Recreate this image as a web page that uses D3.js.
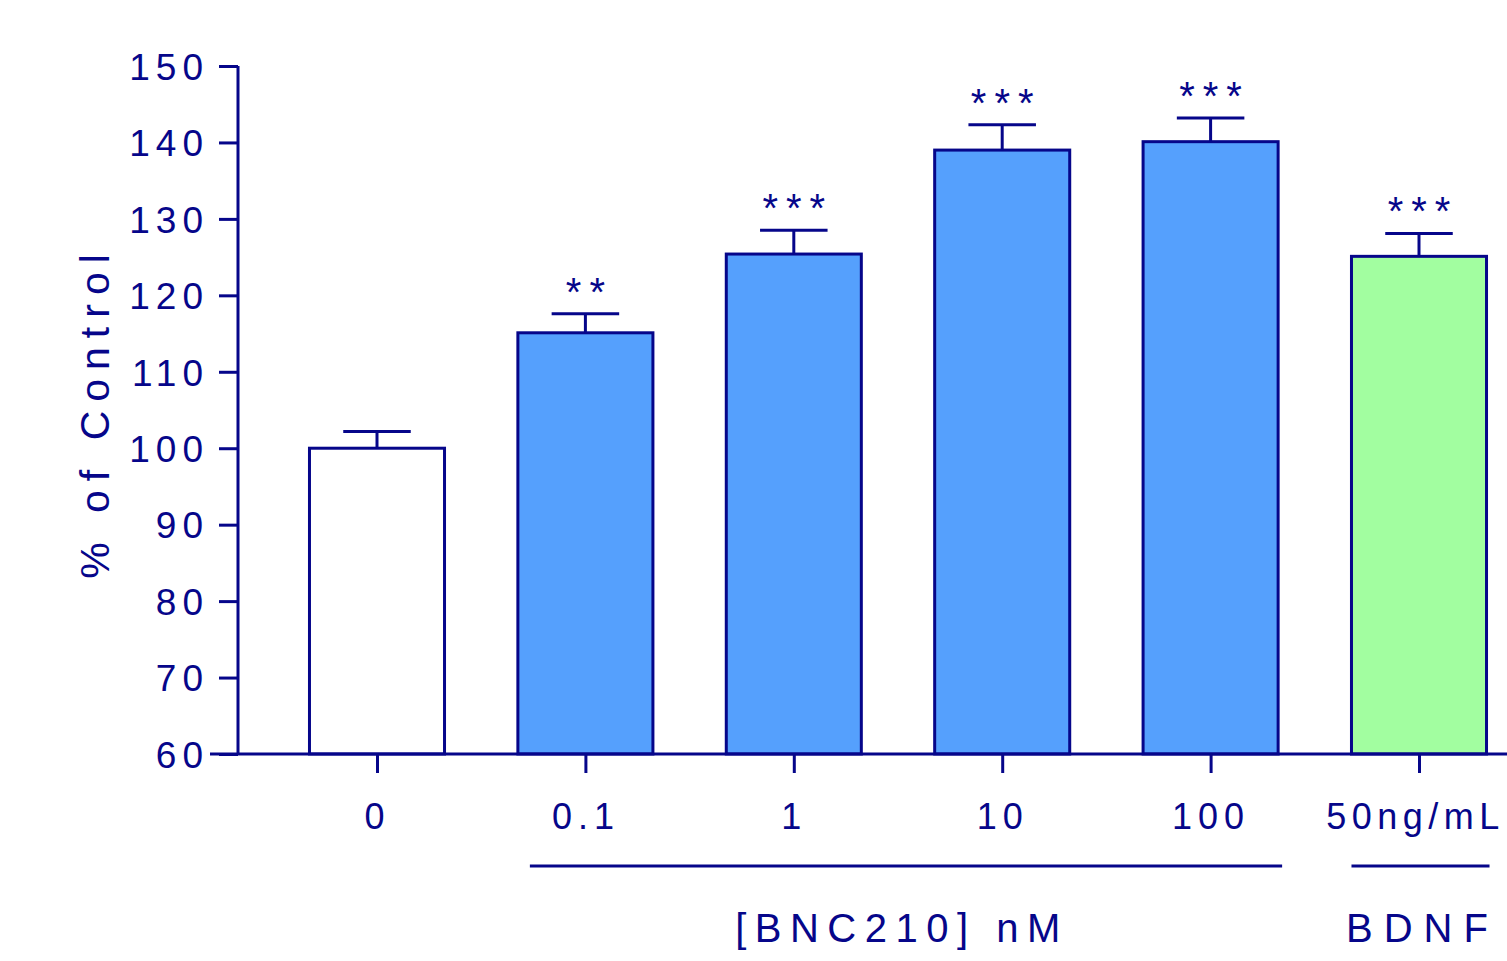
<!DOCTYPE html>
<html><head><meta charset="utf-8">
<script src="https://cdn.jsdelivr.net/npm/d3@7"></script>
<style>body{margin:0;background:#fff}svg{display:block}text{font-family:"Liberation Sans",Arial,sans-serif;fill:#06068a}</style>
</head><body>
<script>
const categories = ["0","0.1","1","10","100","50ng/mL"];
const values = [100, 115.1, 125.4, 139.0, 140.1, 125.1];
const errors = [2.2, 2.5, 3.1, 3.3, 3.1, 3.0];
const stars = ["", "**", "***", "***", "***", "***"];
const fills = ["#ffffff","#55a0fd","#55a0fd","#55a0fd","#55a0fd","#a2fea0"];
const yTicks = [60,70,80,90,100,110,120,130,140,150];
const groups = [{label:"[BNC210] nM", from:1, to:4}, {label:"BDNF", from:5, to:5}];

const W=1507,H=961, navy="#06068a";
const svg=d3.select("body").append("svg").attr("width",W).attr("height",H);
const y=d3.scaleLinear().domain([60,150]).range([754,66]);
const x=d3.scalePoint().domain(categories).range([377,1419]);
const step=x.step(), bw=step*0.648;

// bars
svg.selectAll("rect.bar").data(categories).enter().append("rect")
 .attr("x",d=>x(d)-bw/2).attr("width",bw)
 .attr("y",(d,i)=>y(values[i])).attr("height",(d,i)=>y(60)-y(values[i]))
 .attr("fill",(d,i)=>fills[i]).attr("stroke",navy).attr("stroke-width",3);
// error bars
categories.forEach((c,i)=>{
  const cx=x(c), top=y(values[i]+errors[i]);
  svg.append("line").attr("x1",cx).attr("x2",cx).attr("y1",y(values[i])).attr("y2",top).attr("stroke",navy).attr("stroke-width",3);
  svg.append("line").attr("x1",cx-bw/4).attr("x2",cx+bw/4).attr("y1",top).attr("y2",top).attr("stroke",navy).attr("stroke-width",3);
  if(stars[i]) svg.append("text").attr("x",cx+4).attr("y",top-8).attr("text-anchor","middle")
    .attr("font-size",40).attr("letter-spacing",8).text(stars[i]);
});

// y axis
const ya=svg.append("g").attr("transform","translate(238,0)")
 .call(d3.axisLeft(y).tickValues(yTicks).tickSize(19).tickPadding(14));
ya.select(".domain").attr("stroke",navy).attr("stroke-width",3).attr("d","M0,66V754");
ya.selectAll(".tick line").attr("stroke",navy).attr("stroke-width",3);
ya.selectAll(".tick text").attr("font-size",37).attr("letter-spacing",6).attr("dy","0.36em").attr("dx",4)
  .style("font-family","'Liberation Sans',Arial,sans-serif").attr("fill",navy);

// x axis
const xa=svg.append("g").attr("transform","translate(0,754)")
 .call(d3.axisBottom(x).tickSize(19).tickPadding(30));
xa.select(".domain").attr("stroke",navy).attr("stroke-width",3).attr("d","M210,0H1507");
xa.selectAll(".tick line").attr("stroke",navy).attr("stroke-width",3);
xa.selectAll(".tick text").attr("font-size",36).attr("letter-spacing",6)
  .style("font-family","'Liberation Sans',Arial,sans-serif").attr("fill",navy);
xa.selectAll(".tick text").filter(d=>d==="50ng/mL").attr("letter-spacing",5.5).attr("dx",-4);

// group brackets
groups.forEach(g=>{
  const multi = g.from!==g.to;
  const xb = multi ? [x(categories[g.from])-bw/2+12, x(categories[g.to])+bw/2+4]
                   : [x(categories[g.from])-bw/2, x(categories[g.to])+bw/2+3];
  svg.append("line").attr("x1",xb[0]).attr("x2",xb[1]).attr("y1",866).attr("y2",866).attr("stroke",navy).attr("stroke-width",3);
  svg.append("text").attr("x",(xb[0]+xb[1])/2+(multi?-4:2)).attr("y",942).attr("text-anchor","middle")
   .attr("font-size",40).attr("letter-spacing",multi?8.5:11).text(g.label);
});

// y title
svg.append("text").attr("transform","translate(109,412) rotate(-90)").attr("text-anchor","middle")
 .attr("font-size",41).attr("letter-spacing",9).text("% of Control");
</script>
</body></html>
